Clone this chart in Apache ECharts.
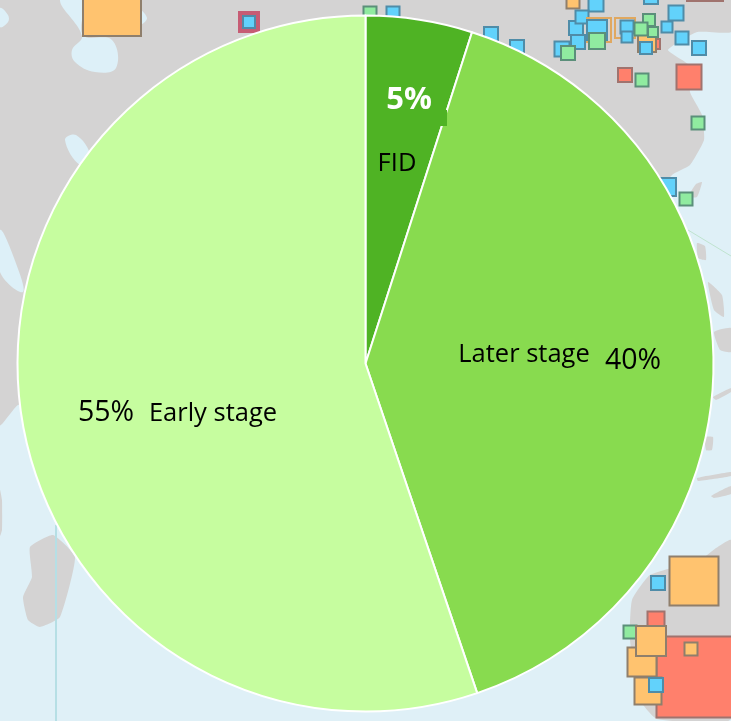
<!DOCTYPE html>
<html>
<head>
<meta charset="utf-8">
<title>Project stage</title>
<style>
    html, body { margin: 0; padding: 0; background: #DFF0F7; }
    #chart { width: 731px; height: 721px; }
</style>
<script src="https://cdn.jsdelivr.net/npm/echarts@6/dist/echarts.min.js"></script>
</head>
<body>
<div id="chart"></div>
<script>
// pie data, slice angles (printed rounded: 5%, 40%, 55%)
const categories = ['FID', 'Later stage', 'Early stage'];
const values = [4.95, 39.85, 55.2];
const sliceColors = ['#4FB324', '#88DB4F', '#C6FD9F'];

// map symbols behind the pie: x, y, size, kind
const siteStyles = {
    orange: {fill: '#FFC36F', line: '#8F7F6C'},
    blue: {fill: '#62D2FB', line: '#4F8CA8'},
    green: {fill: '#90EBA0', line: '#5B8F7A'},
    red: {fill: '#FF806C', line: '#A0736E'},
    maroon: {fill: '#C65C74', line: '#C65C74'},
    hollow: {fill: 'rgba(0,0,0,0)', line: '#E0A860'}
};
const sites = [
    [112, 7, 58, 'orange'], [249, 22, 20, 'maroon'], [249, 22, 12, 'blue'],
    [370, 13, 13, 'green'], [393, 13, 13, 'blue'], [491, 34, 14, 'blue'], [517, 47, 14, 'blue'],
    [573, 2, 13, 'orange'], [596, 4, 15, 'blue'], [651, -3, 14, 'blue'], [705, -17, 36, 'red'],
    [562, 49, 15, 'blue'], [576, 28, 14, 'blue'], [582, 17, 13, 'blue'],
    [599, 30, 24, 'hollow'], [597, 30, 20, 'blue'], [578, 42, 14, 'blue'], [568, 53, 14, 'green'],
    [597, 41, 16, 'green'], [625, 28, 20, 'hollow'], [627, 27, 13, 'blue'], [627, 37, 11, 'blue'],
    [655, 44, 10, 'red'], [647, 43, 18, 'orange'], [649, 20, 12, 'green'], [641, 29, 13, 'green'],
    [653, 32, 10, 'green'], [646, 48, 12, 'blue'], [667, 27, 11, 'blue'], [676, 13, 15, 'blue'],
    [682, 38, 13, 'blue'], [699, 48, 14, 'blue'], [625, 75, 14, 'red'], [642, 80, 13, 'green'],
    [689, 77, 25, 'red'], [698, 123, 13, 'green'], [667, 187, 18, 'blue'], [686, 199, 13, 'green'],
    [697, 677, 81, 'red'], [691, 649, 13, 'orange'], [694, 581, 49, 'orange'], [658, 583, 14, 'blue'],
    [656, 620, 17, 'red'], [630, 632, 13, 'green'], [642, 662, 29, 'orange'], [648, 691, 27, 'orange'],
    [651, 641, 30, 'orange'], [656, 685, 14, 'blue']
];

// land shapes of the map underneath
const landShapes = [
    [[0, 0], [731, 0], [731, 32], [697, 32], [668, 50], [690, 66], [690, 92], [702, 115], [704, 140], [690, 165], [672, 175], [600, 260], [300, 400], [60, 395], [18, 405], [0, 425]],
    [[0, 490], [2, 500], [2, 530], [0, 536]],
    [[30, 547], [53, 535], [75, 557], [60, 617], [40, 627], [28, 620], [23, 597], [32, 577]],
    [[731, 540], [716, 548], [700, 560], [650, 575], [632, 600], [630, 640], [640, 700], [657, 719], [731, 719]],
    [[688, 197], [696, 184], [702, 182], [697, 197]],
    [[697, 243], [705, 246], [706, 260], [698, 258]],
    [[708, 282], [722, 295], [724, 317], [714, 310]],
    [[714, 332], [731, 328], [731, 352], [720, 350]],
    [[713, 397], [731, 388], [731, 392], [716, 400]],
    [[705, 437], [713, 437], [712, 450], [706, 450]],
    [[697, 478], [731, 472], [731, 476], [698, 481]],
    [[711, 496], [731, 486], [731, 494], [714, 498]]
];
const waterShapes = [
    [[60, 0], [83, 0], [83, 35], [112, 40], [116, 68], [95, 72], [75, 62], [72, 50], [82, 36]],
    [[0, 8], [8, 15], [8, 22], [0, 27]],
    [[65, 140], [76, 135], [90, 155], [80, 165]],
    [[0, 230], [14, 258], [23, 292], [0, 272]],
    [[140, 10], [147, 18], [141, 24]]
];

// where each text sits on the pie
const slicePctPos = [[409, 100], [633, 361], [106, 413]];
const sliceNamePos = [[397, 164], [524, 355], [213, 414]];

const chart = echarts.init(document.getElementById('chart'));

const landGraphics = [];
landShapes.forEach(function (pts) {
    landGraphics.push({type: 'polygon', silent: true, z: 0, shape: {points: pts, smooth: 0.15}, style: {fill: '#D4D3D3'}});
});
waterShapes.forEach(function (pts) {
    landGraphics.push({type: 'polygon', silent: true, z: 0, shape: {points: pts, smooth: 0.4}, style: {fill: '#DDF0F8'}});
});
// shipping line and the small patch that hides the slice edge next to 5%
landGraphics.push({type: 'line', silent: true, z: 1, shape: {x1: 56, y1: 525, x2: 56, y2: 721}, style: {stroke: '#B6DFE5', lineWidth: 2}});
landGraphics.push({type: 'line', silent: true, z: 1, shape: {x1: 688, y1: 230, x2: 731, y2: 256}, style: {stroke: '#BFE3CF', lineWidth: 1}});
landGraphics.push({type: 'rect', silent: true, z: 20, shape: {x: 438, y: 110, width: 9, height: 16}, style: {fill: sliceColors[0]}});

const textRows = [];
categories.forEach(function (name, i) {
    textRows.push({
        value: slicePctPos[i],
        label: {
            formatter: Math.round(values[i]) + '%',
            color: i === 0 ? '#fff' : '#000',
            fontWeight: i === 0 ? 'bold' : 'normal',
            fontSize: i === 0 ? 31 : 28.5
        }
    });
    textRows.push({value: sliceNamePos[i], label: {formatter: name, color: '#000', fontSize: 25.5}});
});

const option = {
    animation: false,
    backgroundColor: '#DFF0F7',
    grid: {left: 0, right: 0, top: 0, bottom: 0},
    xAxis: {type: 'value', min: 0, max: 731, show: false},
    yAxis: {type: 'value', min: 0, max: 721, inverse: true, show: false},
    graphic: {elements: landGraphics},
    series: [
        {
            type: 'scatter',
            silent: true,
            clip: false,
            z: 1,
            symbol: 'rect',
            data: sites.map(function (s) {
                return {
                    value: [s[0], s[1]],
                    symbolSize: s[2],
                    itemStyle: {opacity: 1, color: siteStyles[s[3]].fill, borderColor: siteStyles[s[3]].line, borderWidth: 2}
                };
            })
        },
        {
            type: 'pie',
            z: 5,
            silent: true,
            center: [365.5, 363.5],
            radius: [0, 348],
            startAngle: 90,
            clockwise: true,
            label: {show: false},
            labelLine: {show: false},
            itemStyle: {borderColor: '#fff', borderWidth: 2},
            data: categories.map(function (name, i) {
                return {name: name, value: values[i], itemStyle: {color: sliceColors[i]}};
            })
        },
        {
            type: 'scatter',
            silent: true,
            z: 30,
            symbolSize: 0,
            itemStyle: {opacity: 1},
            label: {show: true, position: 'inside', fontFamily: '"Open Sans", "Noto Sans", sans-serif'},
            data: textRows
        }
    ]
};

chart.setOption(option);
</script>
</body>
</html>
